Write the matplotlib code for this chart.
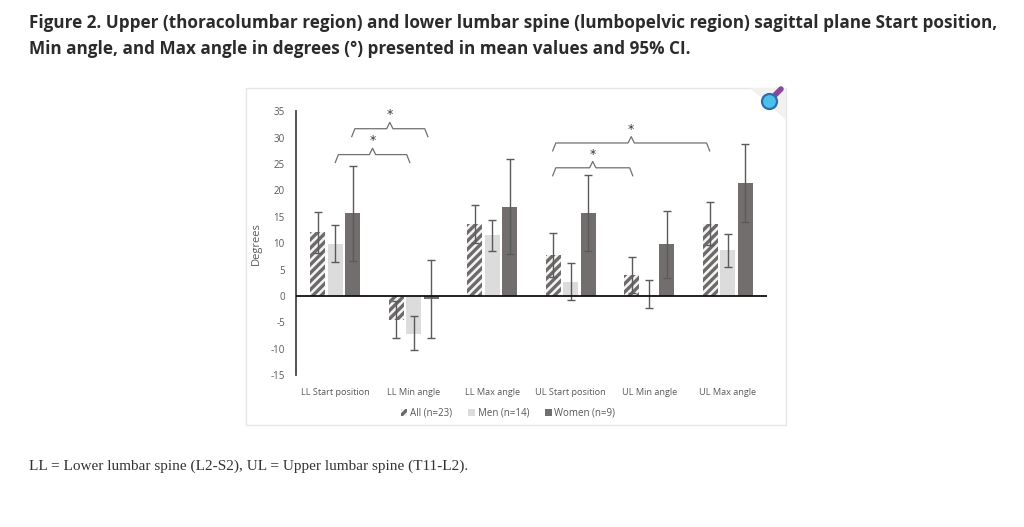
import matplotlib
matplotlib.use("Agg")
import matplotlib.pyplot as plt
import numpy as np
from matplotlib.patches import Rectangle, Circle, Polygon
from matplotlib.lines import Line2D

# ---------------- data ----------------
categories = ["LL Start position", "LL Min angle", "LL Max angle",
              "UL Start position", "UL Min angle", "UL Max angle"]
series_names = ["All (n=23)", "Men (n=14)", "Women (n=9)"]
all_mean = [12.1, -4.5, 13.7, 7.8, 4.0, 13.7]
all_lo = [8.2, -8.0, 10.1, 3.6, 0.6, 9.6]
all_hi = [16.0, -1.0, 17.3, 12.0, 7.4, 17.8]
men_mean = [9.8, -7.1, 11.5, 2.7, 0.3, 8.7]
men_lo = [6.5, -10.3, 8.6, -0.8, -2.3, 5.5]
men_hi = [13.4, -3.8, 14.5, 6.2, 3.0, 11.8]
women_mean = [15.7, -0.5, 16.9, 15.8, 9.8, 21.4]
women_lo = [6.7, -7.9, 8.0, 8.6, 3.4, 14.0]
women_hi = [24.7, 6.9, 25.9, 23.0, 16.1, 28.8]
yticks = [-15, -10, -5, 0, 5, 10, 15, 20, 25, 30, 35]
# significance brackets: (x start, x end, level) in category units
brackets = [(0.0, 0.95, 26.8), (0.21, 1.18, 31.7),
            (2.77, 3.79, 24.3), (2.77, 4.77, 29.0)]

title = ("Figure 2. Upper (thoracolumbar region) and lower lumbar spine (lumbopelvic region) sagittal plane Start position,\n"
         "Min angle, and Max angle in degrees (\u00b0) presented in mean values and 95% CI.")
footnote = "LL = Lower lumbar spine (L2-S2), UL = Upper lumbar spine (T11-L2)."

W, H = 1024, 527
fig = plt.figure(figsize=(W / 100, H / 100), dpi=100)
fig.patch.set_facecolor("white")

def fx(px):
    return px / W

def fy(py):
    return 1 - py / H

def pin(px, py):
    # pixel (top-left origin) -> inches (bottom-left origin)
    return (px / 100, (H - py) / 100)

# page title & footnote
fig.text(fx(29), fy(14), title, family="Open Sans", weight="bold", fontsize=12.3,
         color="#2b2b2b", va="top", ha="left", linespacing=1.55)
fig.text(fx(29), fy(466), footnote, family="Liberation Serif", fontsize=11,
         color="#333333", va="center", ha="left")

# chart box
box = Rectangle((fx(246), fy(425)), fx(786) - fx(246), fy(88) - fy(425),
                transform=fig.transFigure, facecolor="white", edgecolor="#e6e6e6",
                lw=1.0, zorder=-5)
fig.patches.append(box)

# logo
fig.patches.append(Polygon([pin(750, 88), pin(786, 88), pin(786, 120)],
                           closed=True, transform=fig.dpi_scale_trans, facecolor="#f1f1f1",
                           edgecolor="none", zorder=-4))
fig.lines.append(Line2D([pin(775, 95)[0], pin(781, 89)[0]], [pin(775, 95)[1], pin(781, 89)[1]],
                        transform=fig.dpi_scale_trans, color="#8a4a9a", lw=4,
                        solid_capstyle="round", zorder=-3))
fig.patches.append(Circle(pin(769.5, 101.5), 0.075, transform=fig.dpi_scale_trans,
                          facecolor="#4cc0ea", edgecolor="#2a6fb0", lw=1.6, zorder=-2))

# main axes
ax_left, ax_right = 296, 767
y_top, y_bot = 111.3, 375.3
ax = fig.add_axes([fx(ax_left), fy(y_bot), fx(ax_right) - fx(ax_left), fy(y_top) - fy(y_bot)])
ax.set_zorder(5)
ax.set_facecolor("none")
ax.set_xlim(-0.5, len(categories) - 0.5)
ax.set_ylim(-15, 35)

x = np.arange(len(categories))
off = 0.225
bw = 0.19
c_hatch = "#6e6a6a"
c_men = "#dcdcdc"
c_women = "#736e6e"
c_err = "#5a5a5a"

plt.rcParams["hatch.linewidth"] = 2.4
plt.rcParams["hatch.color"] = c_hatch

b1 = ax.bar(x - off, all_mean, bw, color="#f4f4f4", edgecolor=c_hatch, hatch="////", lw=0,
            label=series_names[0], zorder=2)
b2 = ax.bar(x, men_mean, bw, color=c_men, lw=0, label=series_names[1], zorder=2)
b3 = ax.bar(x + off, women_mean, bw, color=c_women, lw=0, label=series_names[2], zorder=2)

for xs, m, lo, hi in [(x - off, all_mean, all_lo, all_hi),
                      (x, men_mean, men_lo, men_hi),
                      (x + off, women_mean, women_lo, women_hi)]:
    m = np.array(m)
    err = np.vstack([m - np.array(lo), np.array(hi) - m])
    ax.errorbar(xs, m, yerr=err, fmt="none", ecolor=c_err, elinewidth=1.0,
                capsize=3, capthick=1.0, zorder=3)

ax.axhline(0, color="#111111", lw=1.3, zorder=4)
for s in ["top", "right", "bottom"]:
    ax.spines[s].set_visible(False)
ax.spines["left"].set_color("#444444")
ax.spines["left"].set_linewidth(1.3)

ax.set_yticks(yticks)
ax.set_yticklabels([str(v) for v in yticks])
ax.tick_params(axis="y", length=0, pad=8, labelsize=7, labelcolor="#595959")
ax.set_xticks(x)
ax.set_xticklabels(categories)
ax.tick_params(axis="x", length=0, pad=9, labelsize=6.6, labelcolor="#595959")
for lab in ax.get_xticklabels() + ax.get_yticklabels():
    lab.set_family("Open Sans")
ax.set_ylabel("Degrees", fontsize=8, color="#595959", family="Open Sans", labelpad=6)

# brackets
for x1, x2, yb in brackets:
    xm = (x1 + x2) / 2
    dx = 0.04
    xs_ = [x1, x1 + dx, xm - dx, xm, xm + dx, x2 - dx, x2]
    ys_ = [yb - 1.5, yb, yb, yb + 1.2, yb, yb, yb - 1.5]
    ax.plot(xs_, ys_, color="#707070", lw=0.9, clip_on=False, zorder=5)
    ax.text(xm, yb + 2.6, "*", ha="center", va="center", fontsize=9, color="#333333",
            clip_on=False)

# legend
leg = fig.legend(handles=[b1, b2, b3], labels=series_names, loc="center",
                 bbox_to_anchor=(fx(508), fy(413)), ncol=3, frameon=False,
                 prop={"family": "Open Sans", "size": 7}, handlelength=0.7,
                 handleheight=0.7, handletextpad=0.3, columnspacing=1.6)
for t in leg.get_texts():
    t.set_color("#595959")

fig.savefig("out.png", dpi=100, facecolor="white")
